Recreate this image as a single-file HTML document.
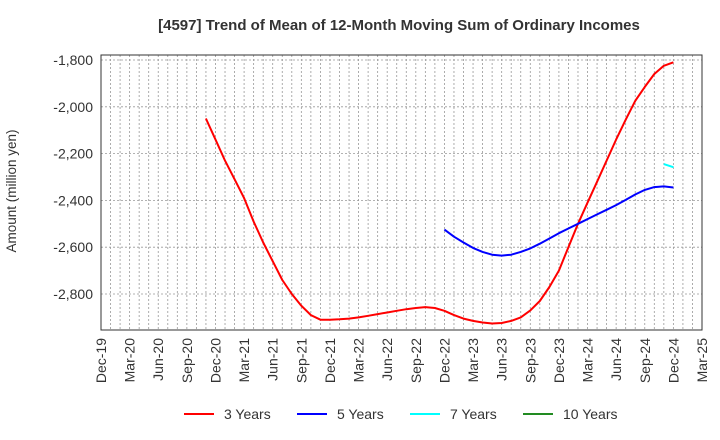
<!DOCTYPE html>
<html><head><meta charset="utf-8"><style>
body{margin:0;background:#fff;}
svg{display:block;font-family:"Liberation Sans",Arial,sans-serif;}
</style></head><body>
<svg id="chart" width="720" height="440" viewBox="0 0 720 440">
<text x="399" y="30" text-anchor="middle" font-size="15" font-weight="bold" fill="#333">[4597]  Trend of Mean of 12-Month Moving Sum of Ordinary Incomes</text>
<text transform="translate(16,191) rotate(-90)" text-anchor="middle" font-size="13.5" fill="#333">Amount (million yen)</text>
<g id="grid"></g><g id="series"></g><g id="axes"></g>
<g>
<line x1="184" y1="414" x2="214" y2="414" stroke="#ff0000" stroke-width="2"/><text x="224" y="419" font-size="14" fill="#333">3 Years</text>
<line x1="297" y1="414" x2="327" y2="414" stroke="#0000ff" stroke-width="2"/><text x="337" y="419" font-size="14" fill="#333">5 Years</text>
<line x1="410" y1="414" x2="440" y2="414" stroke="#00ffff" stroke-width="2"/><text x="450" y="419" font-size="14" fill="#333">7 Years</text>
<line x1="523" y1="414" x2="553" y2="414" stroke="#228b22" stroke-width="2"/><text x="563" y="419" font-size="14" fill="#333">10 Years</text>
</g>
</svg>
<script>
const xTickLabels=["Dec-19","Mar-20","Jun-20","Sep-20","Dec-20","Mar-21","Jun-21","Sep-21","Dec-21","Mar-22","Jun-22","Sep-22","Dec-22","Mar-23","Jun-23","Sep-23","Dec-23","Mar-24","Jun-24","Sep-24","Dec-24","Mar-25"];
const yTicks=[-1800,-2000,-2200,-2400,-2600,-2800];
const y3Start=11;
const y3Values=[-2050,-2140,-2230,-2310,-2390,-2490,-2580,-2660,-2740,-2800,-2850,-2890,-2910,-2910,-2908,-2905,-2900,-2893,-2886,-2879,-2872,-2865,-2860,-2856,-2860,-2872,-2890,-2905,-2915,-2922,-2926,-2924,-2915,-2900,-2870,-2830,-2770,-2700,-2600,-2500,-2410,-2320,-2230,-2140,-2055,-1975,-1915,-1860,-1825,-1810];
const y5Start=36;
const y5Values=[-2525,-2555,-2580,-2603,-2620,-2632,-2636,-2632,-2620,-2605,-2585,-2563,-2540,-2520,-2500,-2480,-2460,-2440,-2420,-2398,-2375,-2355,-2343,-2340,-2345];
const y7Start=59;
const y7Values=[-2245,-2258];
const NS="http://www.w3.org/2000/svg";
const L=101,R=702,T=55,B=330,months=63;
const xS=m=>L+(R-L)*m/months;
const yS=v=>60+(-1800-v)/200*46.8;
const grid=document.getElementById('grid'),axes=document.getElementById('axes'),ser=document.getElementById('series');
function mk(tag,attrs,parent){const e=document.createElementNS(NS,tag);for(const k in attrs)e.setAttribute(k,attrs[k]);parent.appendChild(e);return e;}
for(let m=1;m<months;m++){
 const g=mk('line',{x1:xS(m),x2:xS(m),y1:T,y2:B,stroke:'#999','stroke-width':0.8,'stroke-dasharray':'2,2'},grid);
 
 
}
yTicks.forEach(v=>{
 const g=mk('line',{x1:L,x2:R,y1:yS(v),y2:yS(v),stroke:'#999','stroke-width':0.8,'stroke-dasharray':'2,2'},grid);
 
 
 const t=mk('text',{x:L-8,y:yS(v)+5,'text-anchor':'end','font-size':14,fill:'#333'},axes);
 t.textContent=v.toLocaleString('en-US');
 
 
});
xTickLabels.forEach((lab,i)=>{
 const x=xS(i*3);
 const t=mk('text',{transform:`translate(${x+5},${B+8}) rotate(-90)`,'text-anchor':'end','font-size':14,fill:'#333'},axes);
 t.textContent=lab;
 
 
});
const fr=mk('rect',{x:L,y:T,width:R-L,height:B-T,fill:'none',stroke:'#333','stroke-width':1},axes);


function line(start,vals,color,name){
 const pts=vals.map((v,i)=>xS(start+i).toFixed(1)+','+yS(v).toFixed(1)).join(' ');
 const p=mk('polyline',{points:pts,fill:'none',stroke:color,'stroke-width':2,'stroke-linejoin':'round'},ser);
 
 
}
line(y3Start,y3Values,'#ff0000','line-3-years');
line(y5Start,y5Values,'#0000ff','line-5-years');
line(y7Start,y7Values,'#00ffff','line-7-years');
</script>
</body></html>
